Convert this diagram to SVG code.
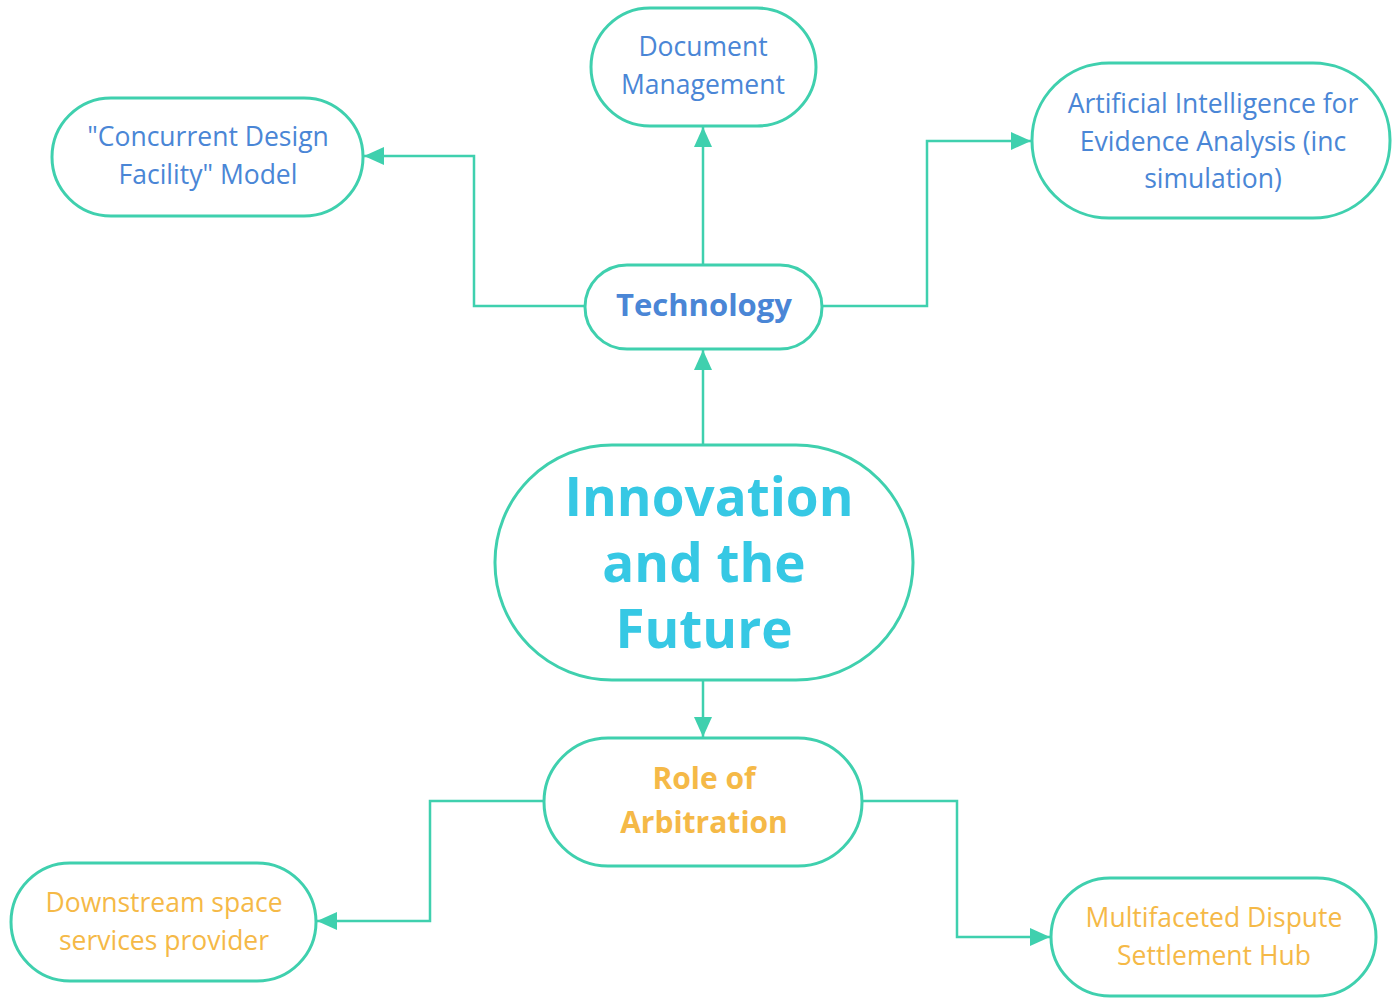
<svg xmlns="http://www.w3.org/2000/svg" width="1392" height="998" viewBox="0 0 1392 998">
<style>
.node{fill:#ffffff;stroke:#3fd0ae;stroke-width:3}
.conn{fill:none;stroke:#3fd0ae;stroke-width:2.5}
text{font-family:"Open Sans","Noto Sans","Liberation Sans",sans-serif;text-anchor:middle;dominant-baseline:central}
.blue{fill:#4a86d6;font-size:26.5px}
.orange{fill:#f5b947;font-size:26.5px}
.tech{fill:#4a86d6;font-size:31px;font-weight:bold}
.role{fill:#f5b947;font-size:30px;font-weight:bold}
.main{fill:#36c8e4;font-size:53px;font-weight:bold}
</style>
<defs>
<marker id="arrow" viewBox="0 0 20 18" refX="20" refY="9" markerWidth="20" markerHeight="18" markerUnits="userSpaceOnUse" orient="auto">
<path d="M0,0 L20,9 L0,18 z" fill="#3fd0ae"/>
</marker>
</defs>
<rect width="1392" height="998" fill="#ffffff"/>
<g id="connectors">
<path class="conn" d="M703,445 V350" marker-end="url(#arrow)"/>
<path class="conn" d="M703,265 V127" marker-end="url(#arrow)"/>
<path class="conn" d="M585,306 H474 V156 H364" marker-end="url(#arrow)"/>
<path class="conn" d="M822,306 H927 V141 H1031" marker-end="url(#arrow)"/>
<path class="conn" d="M703,680 V737" marker-end="url(#arrow)"/>
<path class="conn" d="M544,801 H430 V921 H317" marker-end="url(#arrow)"/>
<path class="conn" d="M862,801 H957 V937 H1050" marker-end="url(#arrow)"/>
</g>
<g id="node-document">
<rect class="node" x="591" y="8" width="225" height="118" rx="59"/>
<text class="blue" x="703" y="46">Document</text>
<text class="blue" x="703" y="84">Management</text>
</g>
<g id="node-cdf">
<rect class="node" x="52" y="98" width="311" height="118" rx="59"/>
<text class="blue" x="208" y="136">"Concurrent Design</text>
<text class="blue" x="208" y="174">Facility" Model</text>
</g>
<g id="node-ai">
<rect class="node" x="1032" y="63" width="358" height="155" rx="77"/>
<text class="blue" x="1213" y="103">Artificial Intelligence for</text>
<text class="blue" x="1213" y="141">Evidence Analysis (inc</text>
<text class="blue" x="1213" y="178">simulation)</text>
</g>
<g id="node-technology">
<rect class="node" x="585" y="265" width="237" height="84" rx="42"/>
<text class="tech" x="704" y="304">Technology</text>
</g>
<g id="node-innovation">
<rect class="node" x="495" y="445" width="418" height="235" rx="117"/>
<text class="main" x="709" y="495">Innovation</text>
<text class="main" x="704" y="561">and the</text>
<text class="main" x="704" y="627">Future</text>
</g>
<g id="node-role">
<rect class="node" x="544" y="738" width="318" height="128" rx="64"/>
<text class="role" x="704" y="777">Role of</text>
<text class="role" x="704" y="821">Arbitration</text>
</g>
<g id="node-downstream">
<rect class="node" x="11" y="863" width="305" height="118" rx="59"/>
<text class="orange" x="164" y="902">Downstream space</text>
<text class="orange" x="164" y="940">services provider</text>
</g>
<g id="node-hub">
<rect class="node" x="1051" y="878" width="325" height="118" rx="59"/>
<text class="orange" x="1214" y="917">Multifaceted Dispute</text>
<text class="orange" x="1214" y="955">Settlement Hub</text>
</g>
</svg>
